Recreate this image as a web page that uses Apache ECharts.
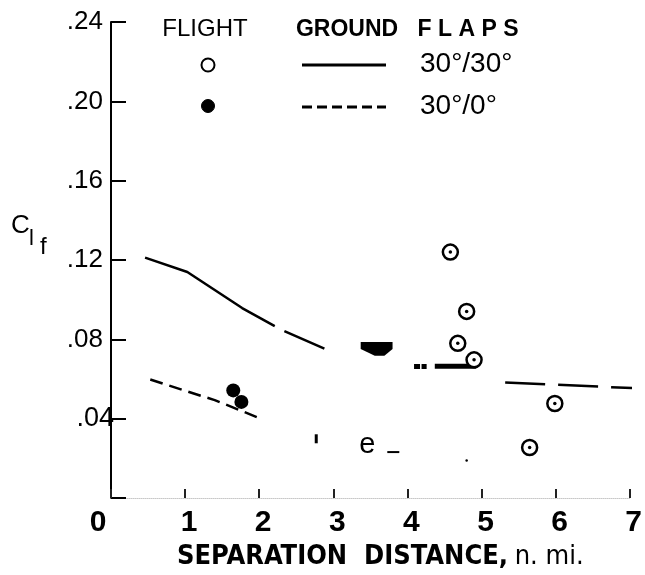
<!DOCTYPE html>
<html>
<head>
<meta charset="utf-8">
<script src="https://cdn.jsdelivr.net/npm/echarts@6/dist/echarts.min.js"></script>
<style>
  html, body { margin: 0; padding: 0; background: #fff; }
  #chart { width: 645px; height: 575px; }
</style>
</head>
<body>
<div id="chart"></div>
<script>
// Axis ticks and their printed labels
const xTickValues = [0, 1, 2, 3, 4, 5, 6, 7];
const xTickLabels = ['0', '1', '2', '3', '4', '5', '6', '7'];
const yTickValues = [0.04, 0.08, 0.12, 0.16, 0.20, 0.24];
const yTickLabels = ['.04', '.08', '.12', '.16', '.20', '.24'];

// Ground-test curve, flaps 30°/30° (drawn in broken pieces)
const ground3030 = [[0.46, 0.1212], [1.03, 0.1140], [1.77, 0.0958], [2.21, 0.0867], [2.27, '-'], [2.34, 0.0842], [2.88, 0.0753]];
const ground3030Blob = [[3.37, 0.0787], [3.80, 0.0787], [3.80, 0.0752], [3.69, 0.0717], [3.56, 0.0717], [3.37, 0.0752]];
const ground3030Dots = [[4.09, 0.0664], [4.26, 0.0664]];
const ground3030Bar = [[4.37, 0.0665], [4.93, 0.0665]];
const ground3030Far = [[5.32, 0.0583], [7.13, 0.0553]];

// Ground-test curve, flaps 30°/0°
const ground300 = [[0.53, 0.0598], [1.0, 0.0541], [1.4, 0.0494], [1.99, 0.0405]];

// Flight measurements
const flight3030 = [[4.58, 0.1240], [4.80, 0.0941], [4.68, 0.0780], [4.90, 0.0697], [5.99, 0.0477], [5.65, 0.0255]];
const flight300 = [[1.65, 0.0543], [1.76, 0.0485]];

// Loose specks printed in the lower field
const strayMarks = [[2.77, 0.0299, 'tick'], [3.46, 0.0270, 'e'], [3.81, 0.0232, 'dash'], [4.80, 0.0189, 'dot']];

const INK = '#000';
const SANS = "'Liberation Sans', Arial, sans-serif";
const NARROW = "'Liberation Sans Narrow', 'DejaVu Sans Condensed', 'Liberation Sans', sans-serif";

const chart = echarts.init(document.getElementById('chart'), null, { renderer: 'canvas' });

function lineSeries(data, width, dash, extra) {
  return Object.assign({
    type: 'line',
    data: data,
    showSymbol: false,
    symbol: 'none',
    silent: true,
    connectNulls: false,
    lineStyle: { color: INK, width: width, type: dash || 'solid', cap: 'butt', opacity: 1 },
    z: 3
  }, extra || {});
}

const strayStyle = {
  tick: { symbol: 'rect', symbolSize: [3, 9], color: INK },
  e: { symbol: 'circle', symbolSize: 1, color: 'rgba(0,0,0,0)' },
  dash: { symbol: 'rect', symbolSize: [12, 2], color: INK },
  dot: { symbol: 'circle', symbolSize: 2.5, color: INK }
};

const option = {
  animation: false,
  backgroundColor: '#fff',
  grid: { left: 111, right: 10.5, top: 22, bottom: 71, containLabel: false },
  xAxis: {
    type: 'value',
    min: 0, max: 7, interval: 1,
    name: '{a|SEPARATION  DISTANCE,}  {b|n. mi.}',
    nameLocation: 'middle',
    nameGap: 42,
    nameTextStyle: {
      padding: [0, 0, 0, 20],
      rich: {
        a: { fontFamily: NARROW, fontWeight: 'bold', fontSize: 27, color: INK },
        b: { fontFamily: NARROW, fontWeight: 'normal', fontSize: 27, color: INK }
      }
    },
    axisLine: { show: true, lineStyle: { color: '#c8c8c8', width: 1, type: 'dotted' } },
    axisTick: { show: true, inside: true, length: 9, lineStyle: { color: '#222', width: 2 } },
    axisLabel: {
      margin: 10,
      formatter: function (v) {
        const i = xTickValues.indexOf(v);
        const t = i >= 0 ? xTickLabels[i] : '';
        return v === 0 ? '{z|' + t + '}' : '{d|' + t + '}';
      },
      rich: {
        z: { fontFamily: SANS, fontWeight: 'bold', fontSize: 30, color: INK, padding: [0, 26, 0, 0] },
        d: { fontFamily: SANS, fontWeight: 'bold', fontSize: 30, color: INK, padding: [0, 0, 0, 8] }
      }
    },
    splitLine: { show: false }
  },
  yAxis: {
    type: 'value',
    min: 0, max: 0.24, interval: 0.04,
    axisLine: { show: true, lineStyle: { color: INK, width: 2 } },
    axisTick: { show: true, inside: true, length: 15, lineStyle: { color: INK, width: 2 } },
    axisLabel: {
      margin: -3,
      formatter: function (v) {
        const i = yTickValues.findIndex(function (t) { return Math.abs(t - v) < 1e-9; });
        if (i < 0) return '';
        return i === 0 ? '{n|' + yTickLabels[i] + '}' : '{p|' + yTickLabels[i] + '}';
      },
      rich: {
        n: { fontFamily: SANS, fontSize: 27, color: INK },
        p: { fontFamily: SANS, fontSize: 26, color: INK, padding: [0, 11, 0, 0] }
      }
    },
    splitLine: { show: false }
  },
  graphic: [
    // axis symbol C sub l sub f
    { type: 'text', x: 11, y: 226, style: { text: 'C', font: '26px ' + SANS, fill: INK, verticalAlign: 'middle' } },
    { type: 'text', x: 29, y: 239, style: { text: 'l', font: '22px ' + SANS, fill: INK, verticalAlign: 'middle' } },
    { type: 'text', x: 40, y: 247, style: { text: 'f', font: '24px ' + SANS, fill: INK, verticalAlign: 'middle' } },
    // key: column headings
    { type: 'text', x: 205, y: 29, style: { text: 'FLIGHT', font: '24px ' + SANS, fill: INK, align: 'center', verticalAlign: 'middle' } },
    { type: 'text', x: 347, y: 30, style: { text: 'GROUND', font: 'bold 23px ' + SANS, fill: INK, align: 'center', verticalAlign: 'middle' } },
    { type: 'text', x: 468, y: 30, style: { text: 'F L A P S', font: 'bold 23px ' + SANS, fill: INK, align: 'center', verticalAlign: 'middle' } },
    // key: 30°/30° row
    { type: 'circle', shape: { cx: 208, cy: 65, r: 6.5 }, style: { fill: '#fff', stroke: INK, lineWidth: 2 } },
    { type: 'line', shape: { x1: 302, y1: 65, x2: 386, y2: 65 }, style: { stroke: INK, lineWidth: 3 } },
    { type: 'text', x: 420, y: 64, style: { text: '30°/30°', font: '28px ' + SANS, fill: INK, verticalAlign: 'middle' } },
    // key: 30°/0° row
    { type: 'circle', shape: { cx: 208, cy: 106, r: 6.5 }, style: { fill: INK, stroke: INK, lineWidth: 1 } },
    { type: 'line', shape: { x1: 302, y1: 107, x2: 386, y2: 107 }, style: { stroke: INK, lineWidth: 3, lineDash: [10, 5] } },
    { type: 'text', x: 420, y: 106, style: { text: '30°/0°', font: '28px ' + SANS, fill: INK, verticalAlign: 'middle' } }
  ],
  series: [
    lineSeries(ground3030, 2.5),
    {
      type: 'custom',
      silent: true,
      data: [[3.58, 0.0752]],
      renderItem: function (params, api) {
        return {
          type: 'polygon',
          shape: { points: ground3030Blob.map(function (p) { return api.coord(p); }) },
          style: { fill: INK }
        };
      },
      z: 3
    },
    lineSeries(ground3030Dots, 5, [6, 1.5]),
    lineSeries(ground3030Bar, 5),
    lineSeries(ground3030Far, 2.5, [40, 13], { clip: false }),
    lineSeries(ground300, 2.5, [13, 7]),
    {
      type: 'scatter',
      data: flight300,
      symbol: 'circle',
      symbolSize: 14,
      itemStyle: { color: INK, opacity: 1 },
      silent: true,
      z: 4
    },
    {
      type: 'scatter',
      data: flight3030,
      symbol: 'circle',
      symbolSize: 15,
      itemStyle: { color: '#fff', borderColor: INK, borderWidth: 2.5, opacity: 1 },
      silent: true,
      z: 4
    },
    {
      type: 'scatter',
      data: flight3030,
      symbol: 'circle',
      symbolSize: 3.5,
      itemStyle: { color: INK, opacity: 1 },
      silent: true,
      z: 5
    },
    {
      type: 'scatter',
      silent: true,
      z: 4,
      label: {
        show: false,
        position: 'inside',
        fontFamily: SANS,
        fontSize: 29,
        color: INK,
        formatter: function (p) { return p.data.text; }
      },
      data: strayMarks.map(function (m) {
        const s = strayStyle[m[2]];
        return {
          value: [m[0], m[1]],
          text: m[2] === 'e' ? 'e' : '',
          symbol: s.symbol,
          symbolSize: s.symbolSize,
          itemStyle: { color: s.color, opacity: 1 },
          label: { show: m[2] === 'e', fontSize: 29, color: INK }
        };
      })
    }
  ]
};

chart.setOption(option);
</script>
</body>
</html>
